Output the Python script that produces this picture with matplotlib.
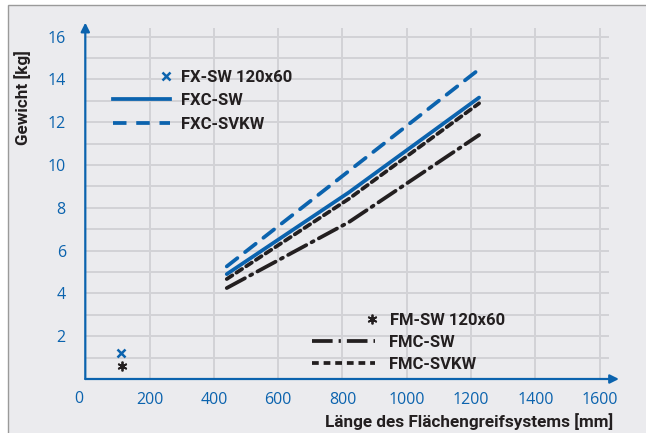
import matplotlib.pyplot as plt
from matplotlib.lines import Line2D
from matplotlib.legend_handler import HandlerLine2DCompound
from matplotlib.patches import Rectangle

BLUE = '#0b63ae'
DARK = '#231f20'
GRID = '#d2d2d6'
BG = '#ebebee'

# Gewicht über Länge
laenge = [440, 820, 1225]
fxc_sw = [4.9, 8.72, 13.15]
fxc_svkw = [5.26, 9.72, 14.47]
fmc_sw = [4.25, 7.33, 11.4]
fmc_svkw = [4.67, 8.42, 12.88]

fx_sw_x, fx_sw_y = [110], [1.2]
fm_sw_x, fm_sw_y = [113], [0.62]

x_ticks = [200, 400, 600, 800, 1000, 1200, 1400, 1600]
y_ticks = [2, 4, 6, 8, 10, 12, 14, 16]

LABEL_FONT = ['Roboto', 'DejaVu Sans']
TICK_FONT = ['Open Sans', 'DejaVu Sans']


class MarkerAtEnd(HandlerLine2DCompound):
    def get_xdata(self, legend, xdescent, ydescent, width, height, fontsize):
        xdata = [-xdescent, -xdescent + width]
        return xdata, [-xdescent + width - 0.2 * fontsize]


fig = plt.figure(figsize=(6.46, 4.33), dpi=100)
fig.patch.set_facecolor('white')
fig.patches.append(Rectangle((8 / 646, -0.1), 1.2, 1 - 5 / 433 + 0.1,
                             transform=fig.transFigure, facecolor=BG,
                             edgecolor='#9a9a9a', lw=1.0, zorder=-5))

ax = fig.add_axes([85.3 / 646, 54 / 433, 524 / 646, 351 / 433])
ax.set_facecolor('none')
ax.set_xlim(0, 1630)
ax.set_ylim(0, 16.4)

ax.grid(True, color=GRID, lw=1.4, zorder=0)
ax.set_axisbelow(True)
ax.set_xticks(x_ticks)
ax.set_xticklabels([str(v) for v in x_ticks])
ax.set_yticks(range(1, 17))
ax.set_yticklabels([str(v) if v in y_ticks else '' for v in range(1, 17)])
ax.tick_params(length=0, colors=BLUE, labelsize=11.5)
ax.tick_params(axis='x', pad=9)
ax.tick_params(axis='y', pad=14)
for lab in ax.get_xticklabels() + ax.get_yticklabels():
    lab.set_family(TICK_FONT)
for s in ax.spines.values():
    s.set_visible(False)

ax.annotate('', xy=(1660, 0), xytext=(0, 0), annotation_clip=False,
            arrowprops=dict(arrowstyle='-|>', color=BLUE, lw=1.6,
                            mutation_scale=13, shrinkA=0, shrinkB=0))
ax.annotate('', xy=(0, 16.65), xytext=(0, 0), annotation_clip=False,
            arrowprops=dict(arrowstyle='-|>', color=BLUE, lw=1.6,
                            mutation_scale=13, shrinkA=0, shrinkB=0))
ax.annotate('0', xy=(0, 0), xytext=(-4.5, -8.5), textcoords='offset points',
            ha='center', va='top', color=BLUE, fontsize=11.5,
            family=TICK_FONT, annotation_clip=False)

lw = 2.7
ax.plot(laenge, fxc_svkw, color=BLUE, lw=lw, ls=(0, (3.6, 2.6)),
        dash_capstyle='round', solid_capstyle='round', zorder=3)
ax.plot(laenge, fxc_sw, color=BLUE, lw=lw, solid_capstyle='round', zorder=3)
ax.plot(laenge, fmc_svkw, color=DARK, lw=lw, ls=(0, (1.8, 1.3)),
        dash_capstyle='round', zorder=3)
ax.plot(laenge, fmc_sw, color=DARK, lw=lw, ls=(0, (5.5, 1.6, 0.6, 1.6)),
        dash_capstyle='round', zorder=3)
ax.plot(fx_sw_x, fx_sw_y, ls='none', marker='x', ms=6, mew=1.8,
        color=BLUE, zorder=4, clip_on=False)
ax.plot(fm_sw_x, fm_sw_y, ls='none', marker=(6, 2, 0), ms=7, mew=1.3,
        color=DARK, zorder=4, clip_on=False)

h_fx = [
    Line2D([], [], ls='none', marker='x', ms=6, mew=1.8, color=BLUE),
    Line2D([], [], color=BLUE, lw=lw),
    Line2D([], [], color=BLUE, lw=lw, ls=(0, (3.6, 2.6))),
]
leg1 = ax.legend(h_fx, ['FX-SW 120x60', 'FXC-SW', 'FXC-SVKW'],
                 loc='upper left', bbox_to_anchor=(113 / 646, 1 - 70 / 433),
                 bbox_transform=fig.transFigure, frameon=False,
                 borderpad=0, borderaxespad=0, handlelength=3.4,
                 handletextpad=0.7, labelspacing=0.5,
                 prop=dict(family=LABEL_FONT, weight='bold', size=12),
                 labelcolor=DARK, handler_map={Line2D: MarkerAtEnd()})
ax.add_artist(leg1)

h_fm = [
    Line2D([], [], ls='none', marker=(6, 2, 0), ms=7, mew=1.3, color=DARK),
    Line2D([], [], color=DARK, lw=lw, ls=(0, (5.5, 1.6, 0.6, 1.6))),
    Line2D([], [], color=DARK, lw=lw, ls=(0, (1.8, 1.3))),
]
ax.legend(h_fm, ['FM-SW 120x60', 'FMC-SW', 'FMC-SVKW'],
          loc='upper left', bbox_to_anchor=(312 / 646, 1 - 313 / 433),
          bbox_transform=fig.transFigure, frameon=False,
          borderpad=0, borderaxespad=0, handlelength=3.8,
          handletextpad=0.85, labelspacing=0.42,
          prop=dict(family=LABEL_FONT, weight='bold', size=12),
          labelcolor=DARK, handler_map={Line2D: MarkerAtEnd()})

fig.text(23 / 646, 1 - 98 / 433, 'Gewicht [kg]', rotation=90, ha='center',
         va='center', fontsize=12.3, weight='bold', color=DARK, family=LABEL_FONT)
fig.text(613 / 646, 1 - 422 / 433, 'Länge des Flächengreifsystems [mm]',
         ha='right', va='center', fontsize=12.3, weight='bold', color=DARK,
         family=LABEL_FONT)

fig.savefig('out.png', dpi=100, facecolor=fig.get_facecolor())
